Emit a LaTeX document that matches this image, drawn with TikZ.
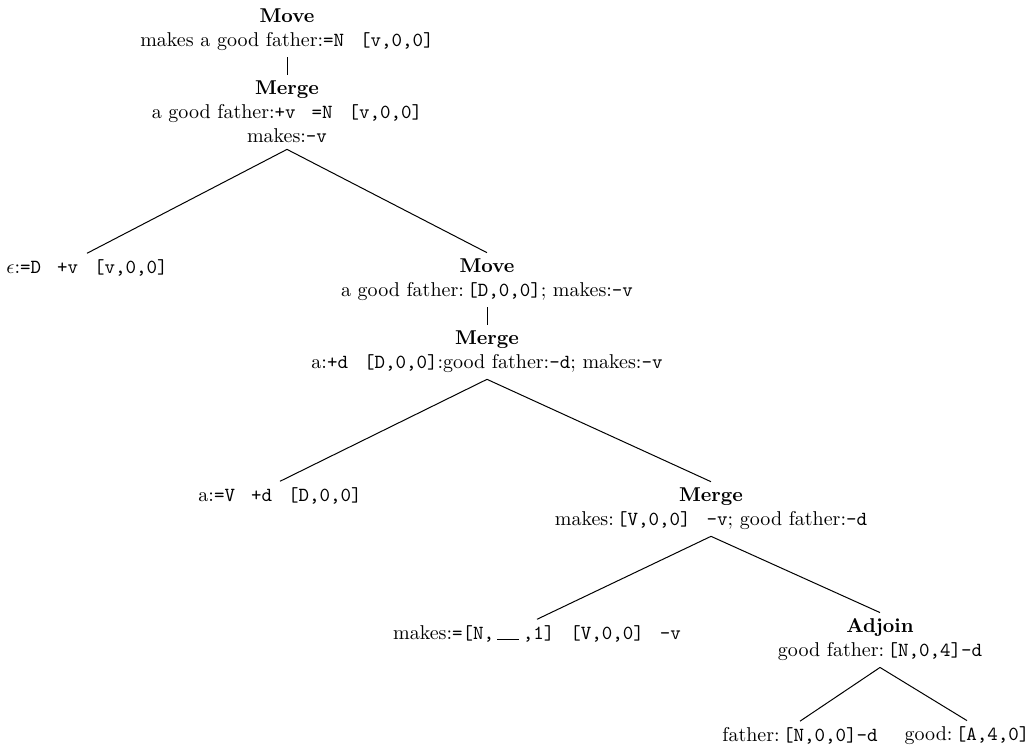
\documentclass[tikz,border=0pt]{standalone}
\usepackage{tikz}
\usetikzlibrary{positioning}

\tikzset{
  derivation/.style={
    align = center,
    inner xsep = 0pt,
    inner ysep = 3pt
  },
  leaf/.style={
    inner xsep = 0pt,
    inner ysep = 3pt
  },
  link/.style={
    line width = 0.5pt
  }
}
\newcommand\tp[1]{\texttt{#1}}
\newcommand\gap{\hspace{0.8em}}
\newcommand\blank{\,\rule{1.1em}{0.4pt}\,}

\begin{document}
\begin{tikzpicture}[x=0.5pt, y=-0.5pt]
    \useasboundingbox (0,0) rectangle (1032,752);

    % top of the derivation
    \node[derivation] (move1) at (287,30) {\textbf{Move}\\makes a good father:\tp{=N}\gap\tp{[v,0,0]}};
    \node[derivation] (merge1) at (287,112) {\textbf{Merge}\\a good father:\tp{+v}\gap\tp{=N}\gap\tp{[v,0,0]}\\makes:\tp{-v}};
    \draw[link] (move1.south) -- (merge1.north);

    \node[leaf] (eps) at (87,268) {$\epsilon$:\tp{=D}\gap\tp{+v}\gap\tp{[v,0,0]}};
    \node[derivation] (move2) at (487,280) {\textbf{Move}\\a good father:\,\tp{[D,0,0]}; makes:\tp{-v}};
    \draw[link] (merge1.south) -- (eps.north);
    \draw[link] (merge1.south) -- (move2.north);

    \node[derivation] (merge2) at (487,352) {\textbf{Merge}\\a:\tp{+d}\gap\tp{[D,0,0]}:good father:\tp{-d}; makes:\tp{-v}};
    \draw[link] (move2.south) -- (merge2.north);

    % lower half
    \node[leaf] (a) at (280,496) {a:\tp{=V}\gap\tp{+d}\gap\tp{[D,0,0]}};
    \node[derivation] (merge3) at (711,509) {\textbf{Merge}\\makes:\,\tp{[V,0,0]}\gap\tp{-v}; good father:\tp{-d}};
    \draw[link] (merge2.south) -- (a.north);
    \draw[link] (merge2.south) -- (merge3.north);

    \node[leaf] (makes) at (537,634) {makes:\tp{=[N,}\blank\tp{,1]}\gap\tp{[V,0,0]}\gap\tp{-v}};
    \node[derivation] (adjoin) at (880,640) {\textbf{Adjoin}\\good father:\,\tp{[N,0,4]-d}};
    \draw[link] (merge3.south) -- (makes.north);
    \draw[link] (merge3.south) -- (adjoin.north);

    \node[leaf] (father) at (800,736) {father:\,\tp{[N,0,0]-d}};
    \node[leaf] (good) at (967,736) {good:\,\tp{[A,4,0]}};
    \draw[link] (adjoin.south) -- (father.north);
    \draw[link] (adjoin.south) -- (good.north);
\end{tikzpicture}
\end{document}
